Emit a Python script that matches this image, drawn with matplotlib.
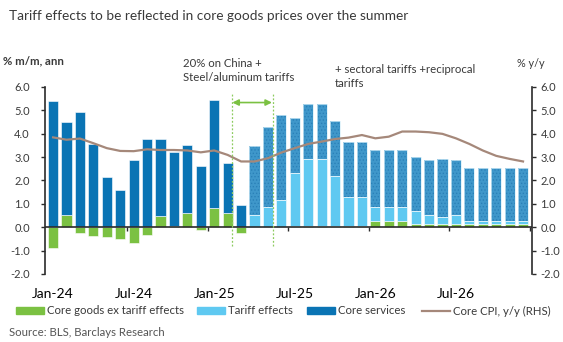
import matplotlib
matplotlib.use("Agg")
import matplotlib.pyplot as plt
import numpy as np
from matplotlib.patches import Patch
from matplotlib.lines import Line2D

FONT = ['Lato', 'DejaVu Sans']
plt.rcParams['font.family'] = FONT

months = ['Jan-24', 'Feb-24', 'Mar-24', 'Apr-24', 'May-24', 'Jun-24', 'Jul-24', 'Aug-24', 'Sep-24',
          'Oct-24', 'Nov-24', 'Dec-24', 'Jan-25', 'Feb-25', 'Mar-25', 'Apr-25', 'May-25', 'Jun-25',
          'Jul-25', 'Aug-25', 'Sep-25', 'Oct-25', 'Nov-25', 'Dec-25', 'Jan-26', 'Feb-26', 'Mar-26',
          'Apr-26', 'May-26', 'Jun-26', 'Jul-26', 'Aug-26', 'Sep-26', 'Oct-26', 'Nov-26', 'Dec-26']

core_goods_ex_tariff = [-0.90, 0.50, -0.27, -0.38, -0.43, -0.52, -0.68, -0.34, 0.47, 0.07, 0.60, -0.13,
                        0.82, 0.61, -0.27, 0.00, 0.00, 0.00, 0.03, 0.03, 0.03, 0.03, 0.03, 0.03,
                        0.27, 0.27, 0.27, 0.13, 0.13, 0.13, 0.13, 0.13, 0.13, 0.13, 0.13, 0.13]

tariff_effects = [0, 0, 0, 0, 0, 0, 0, 0, 0, 0, 0, 0,
                  0, 0, 0, 0.54, 0.88, 1.15, 2.28, 2.88, 2.88, 2.14, 1.26, 1.26,
                  0.58, 0.58, 0.58, 0.58, 0.41, 0.30, 0.41, 0.13, 0.13, 0.13, 0.13, 0.13]

core_services = [5.40, 4.00, 4.94, 3.55, 2.13, 1.57, 2.88, 3.76, 3.29, 3.16, 2.90, 2.62,
                 4.61, 2.13, 0.94, 2.94, 3.42, 3.66, 2.37, 2.35, 2.35, 2.37, 2.37, 2.37,
                 2.43, 2.43, 2.43, 2.28, 2.33, 2.48, 2.33, 2.29, 2.29, 2.29, 2.29, 2.29]

core_cpi_yy = [3.84, 3.74, 3.79, 3.59, 3.38, 3.26, 3.25, 3.33, 3.30, 3.30, 3.28, 3.20,
               3.28, 3.09, 2.81, 2.81, 2.95, 3.19, 3.38, 3.56, 3.66, 3.77, 3.83, 3.94,
               3.80, 3.87, 4.09, 4.09, 4.06, 3.99, 3.80, 3.56, 3.28, 3.05, 2.92, 2.81]

forecast_start = 'Apr-25'
tick_labels = ['Jan-24', 'Jul-24', 'Jan-25', 'Jul-25', 'Jan-26', 'Jul-26']
legend_labels = ['Core goods ex tariff effects', 'Tariff effects', 'Core services', 'Core CPI, y/y (RHS)']

GREEN = '#7BC142'
LIGHT = '#5FC9F1'
DARK = '#0A74B4'
HATCHFACE = '#3F97CA'
HATCHCOL = '#2A80B8'
BROWN = '#A5887A'
TXT = '#3a3a3a'

x = np.arange(len(months))
goods = np.array(core_goods_ex_tariff)
tariff = np.array(tariff_effects)
serv = np.array(core_services)
fc = months.index(forecast_start)

fig = plt.figure(figsize=(5.63, 3.42), dpi=100)
ax = fig.add_axes([0.080, 0.199, 0.865, 0.547])

w = 0.76
ax.bar(x, goods, w, color=GREEN, edgecolor='white', linewidth=0.4, zorder=2)
base_t = np.maximum(goods, 0)
ax.bar(x, tariff, w, bottom=base_t, color=LIGHT, edgecolor='white', linewidth=0.4, zorder=2)
base_s = base_t + tariff
ax.bar(x[:fc], serv[:fc], w, bottom=base_s[:fc], color=DARK, edgecolor='white', linewidth=0.4, zorder=2)
plt.rcParams['hatch.linewidth'] = 0.6
ax.bar(x[fc:], serv[fc:], w, bottom=base_s[fc:], color=HATCHFACE, edgecolor=HATCHCOL,
       hatch='.....', linewidth=0, zorder=2)
ax.bar(x[fc:], serv[fc:], w, bottom=base_s[fc:], facecolor='none', edgecolor='#d6eef9',
       linewidth=0.5, zorder=2)

ax.axhline(0, color='#2b2b2b', lw=1.2, zorder=3)

ax.set_xlim(-0.6, 35.67)
ax.set_ylim(-2, 6)
yt = np.arange(-2, 7, 1)
ax.set_yticks(yt)
ax.set_yticklabels([f'{v:.1f}' for v in yt], fontsize=8, color=TXT)
ax.tick_params(axis='y', direction='out', length=3, width=1, color='#2b2b2b', pad=8)

ax.set_xticks(x[::6])
ax.set_xticklabels(tick_labels, fontsize=8, color=TXT)
ax.set_xticks(np.arange(5.5, 36, 6), minor=True)
ax.tick_params(axis='x', which='major', length=0, pad=44)
ax.tick_params(axis='x', which='minor', length=3, width=1, color='#2b2b2b', direction='out')
ax.spines['bottom'].set_position(('data', 0))
ax.spines['bottom'].set_visible(False)
for s in ['top', 'right']:
    ax.spines[s].set_visible(False)
ax.spines['left'].set_color('#2b2b2b')
ax.spines['left'].set_linewidth(1.2)

ax2 = ax.twinx()
ax2.plot(x, core_cpi_yy, color=BROWN, lw=1.6, zorder=4)
ax2.set_ylim(-2, 6)
ax2.set_yticks(yt)
ax2.set_yticklabels([f'{v:.1f}' for v in yt], fontsize=8, color=TXT)
ax2.tick_params(axis='y', direction='out', length=3, width=1, color='#2b2b2b', pad=3)
for s in ['top', 'left', 'bottom']:
    ax2.spines[s].set_visible(False)
ax2.spines['right'].set_color('#2b2b2b')
ax2.spines['right'].set_linewidth(1.2)

# annotation lines / arrow
LG = '#8CCB5E'
for xv in (13.3, 16.35):
    ax2.plot([xv, xv], [-0.8, 5.75], color=LG, lw=0.9, ls=(0, (1.5, 1.5)), zorder=5)
ax2.annotate('', xy=(13.35, 5.33), xytext=(16.3, 5.33),
             arrowprops=dict(arrowstyle='<|-|>', color=GREEN, lw=1.2, mutation_scale=9,
                             shrinkA=0, shrinkB=0), zorder=5)

fig.text(0.016, 0.953, 'Tariff effects to be reflected in core goods prices over the summer',
         fontsize=9.8, color=TXT, va='center', ha='left')
fig.text(0.006, 0.822, '% m/m, ann', fontsize=8.2, fontweight='bold', color=TXT, va='center')
fig.text(0.918, 0.813, '% y/y', fontsize=7.8, color=TXT, va='center')
fig.text(0.3245, 0.83, '20% on China +\nSteel/aluminum tariffs', fontsize=8.2, color=TXT,
         va='top', ha='left', linespacing=1.35)
fig.text(0.595, 0.812, '+ sectoral tariffs +reciprocal\ntariffs', fontsize=8.2, color=TXT,
         va='top', ha='left', linespacing=1.35)

handles = [Patch(color=GREEN), Patch(color=LIGHT), Patch(color=DARK),
           Line2D([], [], color=BROWN, lw=1.6)]
leg_x = [16, 197, 307, 422]
for h, lab, px in zip(handles, legend_labels, leg_x):
    fig.legend([h], [lab], loc='center left', bbox_to_anchor=(px / 563, 1 - 311 / 342),
               frameon=False, fontsize=8.2, handlelength=2.5, handleheight=0.55, handletextpad=0.25,
               borderaxespad=0, borderpad=0, labelcolor=TXT)

fig.text(0.016, 1 - 332 / 342, 'Source: BLS, Barclays Research', fontsize=8.2, color='#555555',
         va='center')

fig.savefig('out.png', dpi=100)
